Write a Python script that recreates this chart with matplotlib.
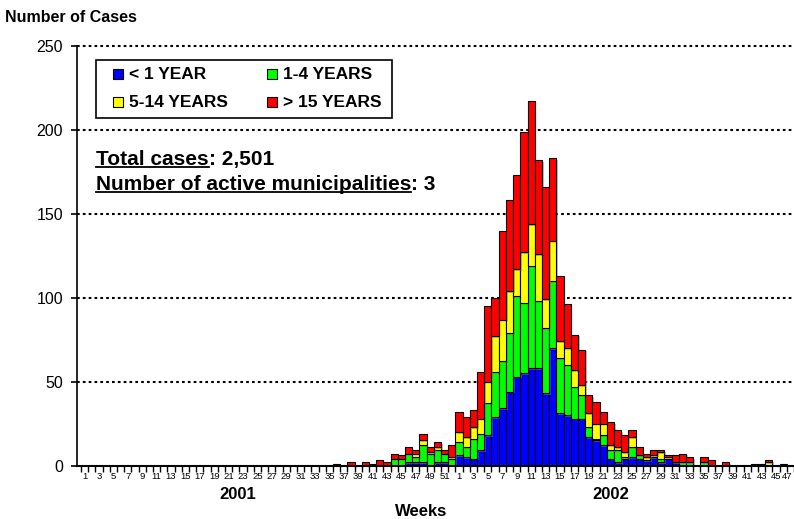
import numpy as np
import matplotlib
matplotlib.use("Agg")
import matplotlib.pyplot as plt
import matplotlib.patheffects as pe
from matplotlib.patches import Rectangle
from matplotlib.lines import Line2D
from matplotlib.transforms import blended_transform_factory, ScaledTranslation

plt.rcParams['font.family'] = ['Liberation Sans', 'DejaVu Sans']

# ---- data -------------------------------------------------------------
groups = ['< 1 YEAR', '1-4 YEARS', '5-14 YEARS', '> 15 YEARS']
colors = ['#0000FF', '#00FF00', '#FFFF00', '#FF0000']

weeks_2001 = list(range(1, 53))
weeks_2002 = list(range(1, 48))

# 2001: no cases in weeks 1-35, values below are weeks 36-52
under1_2001 = [0] * 35 + [0, 0, 0, 0, 0, 0, 0, 0, 0, 0, 2, 2, 2, 0, 2, 2, 0]
age1_4_2001 = [0] * 35 + [0, 0, 0, 0, 0, 0, 0, 0, 4, 4, 5, 3, 10, 7, 7, 5, 4]
age5_14_2001 = [0] * 35 + [0, 0, 0, 0, 0, 0, 0, 0, 0, 0, 0, 2, 3, 1, 2, 0, 1]
over15_2001 = [0] * 35 + [1, 0, 2, 0, 2, 1, 3, 2, 3, 2, 4, 2, 4, 3, 3, 2, 7]

# 2002: weeks 1-47
under1_2002 = [6, 5, 4, 9, 18, 29, 34, 44, 53, 55,
               58, 58, 43, 70, 31, 30, 28, 28, 17, 15,
               12, 4, 2, 4, 5, 4, 3, 5, 2, 4,
               2, 0, 0, 0, 0, 0, 0, 0, 0, 0,
               0, 0, 0, 0, 0, 0, 0]
age1_4_2002 = [8, 6, 12, 10, 19, 27, 28, 35, 48, 42,
               61, 40, 39, 40, 33, 30, 19, 14, 6, 1,
               6, 5, 7, 1, 6, 2, 0, 0, 2, 0,
               0, 2, 2, 0, 2, 0, 0, 0, 0, 0,
               0, 0, 0, 0, 0, 0, 0]
age5_14_2002 = [6, 6, 7, 9, 13, 21, 25, 25, 16, 30,
                25, 28, 17, 24, 10, 10, 10, 6, 8, 9,
                7, 3, 2, 3, 6, 0, 2, 1, 4, 1,
                0, 0, 0, 0, 0, 0, 0, 0, 0, 0,
                0, 0, 0, 2, 0, 0, 0]
over15_2002 = [12, 12, 10, 28, 45, 23, 53, 54, 56, 72,
               73, 56, 67, 49, 39, 26, 21, 21, 11, 13,
               7, 14, 10, 10, 4, 5, 2, 3, 1, 1,
               4, 5, 3, 0, 3, 3, 0, 2, 0, 0,
               0, 1, 1, 1, 0, 1, 0]

series = [under1_2001 + under1_2002,
          age1_4_2001 + age1_4_2002,
          age5_14_2001 + age5_14_2002,
          over15_2001 + over15_2002]
week_labels = [str(w) if w % 2 == 1 else '' for w in weeks_2001 + weeks_2002]

total_cases = '2,501'
active_municipalities = '3'

# ---- figure -----------------------------------------------------------
W, H = 794, 519
fig = plt.figure(figsize=(W / 100, H / 100), dpi=100)


def px(x, y):
    return x / W, 1 - y / H


ax = fig.add_axes([77 / W, 1 - 465.5 / H, (W - 77) / W, (465.5 - 46) / H])

x = np.arange(len(week_labels))
bottom = np.zeros(len(x))
shadow = [pe.SimplePatchShadow(offset=(1.2, -1.2), shadow_rgbFace='#808080', alpha=0.5), pe.Normal()]
for vals, col in zip(series, colors):
    vals = np.array(vals, dtype=float)
    m = vals > 0
    bars = ax.bar(x[m], vals[m], bottom=bottom[m], width=1.0, color=col,
                  edgecolor='black', linewidth=0.8, zorder=3)
    for b in bars:
        b.set_path_effects(shadow)
    bottom += vals

ax.set_xlim(-1.05, 98.5)
ax.set_ylim(0, 250)

# dotted gridlines
for yv in range(50, 251, 50):
    ax.axhline(yv, color='black', linewidth=1.5, linestyle=(0, (1.3, 1.5)),
               zorder=1, clip_on=False)

for s in ['top', 'right']:
    ax.spines[s].set_visible(False)
ax.spines['left'].set_linewidth(1.2)
ax.spines['bottom'].set_linewidth(1.5)
ax.spines['bottom'].set_zorder(4)

ax.set_yticks(range(0, 251, 50))
ax.tick_params(axis='y', direction='out', length=4, width=1.2, labelsize=11.5, pad=6)

ax.set_xticks(x)
ax.set_xticklabels(week_labels, fontsize=6.8)
ax.tick_params(axis='x', which='major', length=0, pad=5)
ax.set_xticks(np.arange(-0.5, len(x) + 0.5, 1), minor=True)
ax.tick_params(axis='x', which='minor', direction='out', length=4, width=1)
# last label sits on the right edge; nudge it left so it stays inside
last = ax.get_xticklabels()[-1]
last.set_transform(last.get_transform() + ScaledTranslation(-0.035, 0, fig.dpi_scale_trans))

tr = blended_transform_factory(ax.transData, ax.transAxes)
ax.text(21.3, -0.068, '2001', transform=tr, ha='center', va='center',
        fontsize=12, fontweight='bold')
ax.text(73.0, -0.068, '2002', transform=tr, ha='center', va='center',
        fontsize=12, fontweight='bold')

fig.text(*px(421, 511), 'Weeks', ha='center', va='center', fontsize=12, fontweight='bold')
fig.text(*px(5, 18), 'Number of Cases', ha='left', va='center', fontsize=11.5, fontweight='bold')

# legend box
fig.patches.append(Rectangle(px(96, 118), 296 / W, 58 / H, transform=fig.transFigure,
                             facecolor='white', edgecolor='black', linewidth=1.2, zorder=5))
leg_pos = [(113, 69), (267, 69), (113, 97), (267, 97)]
for (lx, ly), name, col in zip(leg_pos, groups, colors):
    fig.patches.append(Rectangle(px(lx, ly + 10), 10 / W, 10 / H, transform=fig.transFigure,
                                 facecolor=col, edgecolor='black', linewidth=0.8, zorder=6))
    fig.text(*px(lx + 16, ly + 5.5), name, ha='left', va='center', fontsize=12.5,
             fontweight='bold', zorder=7)

# underlined summary text
fig.canvas.draw()
renderer = fig.canvas.get_renderer()
for yb, lab, val in [(165, 'Total cases', total_cases),
                     (190, 'Number of active municipalities', active_municipalities)]:
    t = fig.text(*px(96, yb), lab, ha='left', va='baseline', fontsize=15, fontweight='bold')
    bb = t.get_window_extent(renderer)
    fig.text(bb.x1 / W, 1 - yb / H, ': ' + val, ha='left', va='baseline',
             fontsize=15, fontweight='bold')
    uy = 1 - (yb + 2) / H
    fig.lines.append(Line2D([bb.x0 / W, bb.x1 / W], [uy, uy], transform=fig.transFigure,
                            color='black', linewidth=1.3))

fig.savefig('out.png', dpi=100)
